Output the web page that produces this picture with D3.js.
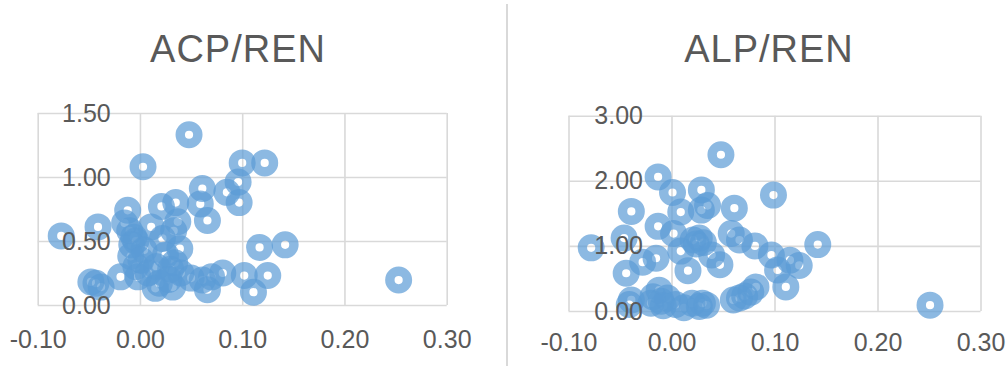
<!DOCTYPE html>
<html>
<head>
<meta charset="utf-8">
<script src="https://cdn.jsdelivr.net/npm/d3@7"></script>
<style>
  html, body { margin: 0; padding: 0; background: #fff; }
  svg { display: block; }
  text { font-family: "Liberation Sans", Arial, sans-serif; fill: #595959; }
</style>
</head>
<body>
<svg id="chart" width="1007" height="370"></svg>
<script>
// ACP/REN scatter: x = change, y = ratio
const acpX = [0.048, 0.003, 0.100, 0.122, 0.096, 0.085, 0.061, 0.097, 0.059, 0.066,
  0.035, 0.021, -0.077, -0.041, -0.012, -0.015, -0.010, -0.006, -0.004, -0.008,
  0.011, 0.037, 0.033, 0.022, 0.004, 0.025, 0.034, 0.030, -0.009, -0.004,
  0.016, 0.117, 0.142, 0.253, 0.102, 0.125, 0.111, 0.081, 0.070, 0.061,
  0.066, 0.050, 0.032, 0.019, 0.015, 0.008, -0.002, -0.019, -0.043, -0.038,
  -0.048, 0.040, 0.028, 0.001, 0.039];
const acpY = [1.33, 1.08, 1.11, 1.11, 0.96, 0.88, 0.91, 0.80, 0.79, 0.66,
  0.80, 0.77, 0.54, 0.61, 0.74, 0.64, 0.58, 0.53, 0.50, 0.47,
  0.61, 0.65, 0.58, 0.52, 0.43, 0.39, 0.33, 0.28, 0.38, 0.30,
  0.30, 0.45, 0.47, 0.195, 0.23, 0.23, 0.10, 0.25, 0.22, 0.195,
  0.12, 0.21, 0.14, 0.17, 0.13, 0.25, 0.22, 0.22, 0.17, 0.14,
  0.18, 0.25, 0.20, 0.35, 0.44];

// ALP/REN scatter
const alpX = [0.048, -0.013, 0.001, 0.029, 0.099, -0.039, 0.009, 0.029, 0.035, 0.061,
  -0.013, 0.002, 0.021, 0.027, 0.031, 0.024, 0.058, 0.066, 0.081, -0.078,
  -0.046, -0.015, -0.028, 0.009, 0.039, 0.047, 0.016, -0.044, 0.097, 0.103,
  0.115, 0.124, 0.142, 0.111, 0.251, 0.082, 0.077, 0.071, 0.060, 0.066,
  0.030, 0.034, 0.020, 0.027, -0.004, -0.010, -0.018, -0.020, -0.008, -0.039,
  -0.041, -0.012, 0.004, 0.012];
const alpY = [2.40, 2.06, 1.82, 1.86, 1.78, 1.53, 1.52, 1.55, 1.62, 1.58,
  1.30, 1.19, 1.09, 1.12, 1.05, 1.03, 1.19, 1.09, 1.00, 0.97,
  1.12, 0.81, 0.75, 0.92, 0.86, 0.71, 0.62, 0.58, 0.86, 0.63,
  0.78, 0.70, 1.02, 0.37, 0.09, 0.37, 0.29, 0.23, 0.17, 0.20,
  0.12, 0.09, 0.12, 0.07, 0.20, 0.15, 0.22, 0.12, 0.08, 0.17,
  0.10, 0.32, 0.10, 0.05];

const xTicks = [-0.10, 0.00, 0.10, 0.20, 0.30];
const acpYTicks = [0.00, 0.50, 1.00, 1.50];
const alpYTicks = [0.00, 1.00, 2.00, 3.00];

const svg = d3.select("#chart");
// two decimals, plain hyphen for negatives
const fmt = v => (v < 0 ? "-" : "") + Math.abs(v).toFixed(2);

const panels = [
  { title: "ACP/REN", xs: acpX, ys: acpY, yTicks: acpYTicks,
    left: 37.7, right: 446.7, top: 113, bottom: 305,
    yLabelPad: -73, xLabelPad: 25, titleX: 238, titleY: 62 },
  { title: "ALP/REN", xs: alpX, ys: alpY, yTicks: alpYTicks,
    left: 568.5, right: 980.5, top: 115.7, bottom: 311,
    yLabelPad: -74.5, xLabelPad: 22, titleX: 769, titleY: 62 }
];

// divider between the two charts
svg.append("line")
  .attr("x1", 507).attr("x2", 507).attr("y1", 4).attr("y2", 366)
  .attr("stroke", "#d9d9d9").attr("stroke-width", 2);

panels.forEach(p => {
  const x = d3.scaleLinear().domain([-0.1, 0.3]).range([p.left, p.right]);
  const y = d3.scaleLinear().domain([0, d3.max(p.yTicks)]).range([p.bottom, p.top]);
  const w = p.right - p.left, h = p.bottom - p.top;
  const g = svg.append("g");

  // gridlines
  g.append("g").attr("transform", `translate(0,${p.bottom})`)
    .call(d3.axisBottom(x).tickValues(xTicks).tickSize(-h).tickFormat(""))
    .call(a => a.select(".domain").remove())
    .call(a => a.selectAll("line").attr("stroke", "#d9d9d9").attr("stroke-width", 1.6));
  g.append("g").attr("transform", `translate(${p.left},0)`)
    .call(d3.axisLeft(y).tickValues(p.yTicks).tickSize(-w).tickFormat(""))
    .call(a => a.select(".domain").remove())
    .call(a => a.selectAll("line").attr("stroke", "#d9d9d9").attr("stroke-width", 1.6));

  // points
  const pts = d3.range(p.xs.length).map(i => [p.xs[i], p.ys[i]]);
  g.append("g").selectAll("circle").data(pts).join("circle")
    .attr("cx", d => x(d[0])).attr("cy", d => y(d[1]))
    .attr("r", 8.8)
    .attr("fill", "none")
    .attr("stroke", "#5B9BD5")
    .attr("stroke-opacity", 0.7)
    .attr("stroke-width", 9.4);

  // tick labels
  g.append("g").attr("transform", `translate(${p.left},0)`)
    .call(d3.axisLeft(y).tickValues(p.yTicks).tickSize(0).tickPadding(p.yLabelPad).tickFormat(fmt))
    .call(a => a.select(".domain").remove())
    .call(a => a.selectAll("text").attr("font-size", 25).attr("font-family", null).attr("fill", "#595959"));
  g.append("g").attr("transform", `translate(0,${p.bottom})`)
    .call(d3.axisBottom(x).tickValues(xTicks).tickSize(0).tickPadding(p.xLabelPad).tickFormat(fmt))
    .call(a => a.select(".domain").remove())
    .call(a => a.selectAll("text").attr("font-size", 25).attr("font-family", null).attr("fill", "#595959"));

  // title
  svg.append("text")
    .attr("x", p.titleX).attr("y", p.titleY)
    .attr("text-anchor", "middle")
    .attr("font-size", 38)
    .attr("letter-spacing", 1)
    .attr("fill", "#595959")
    .text(p.title);
});
</script>
</body>
</html>
